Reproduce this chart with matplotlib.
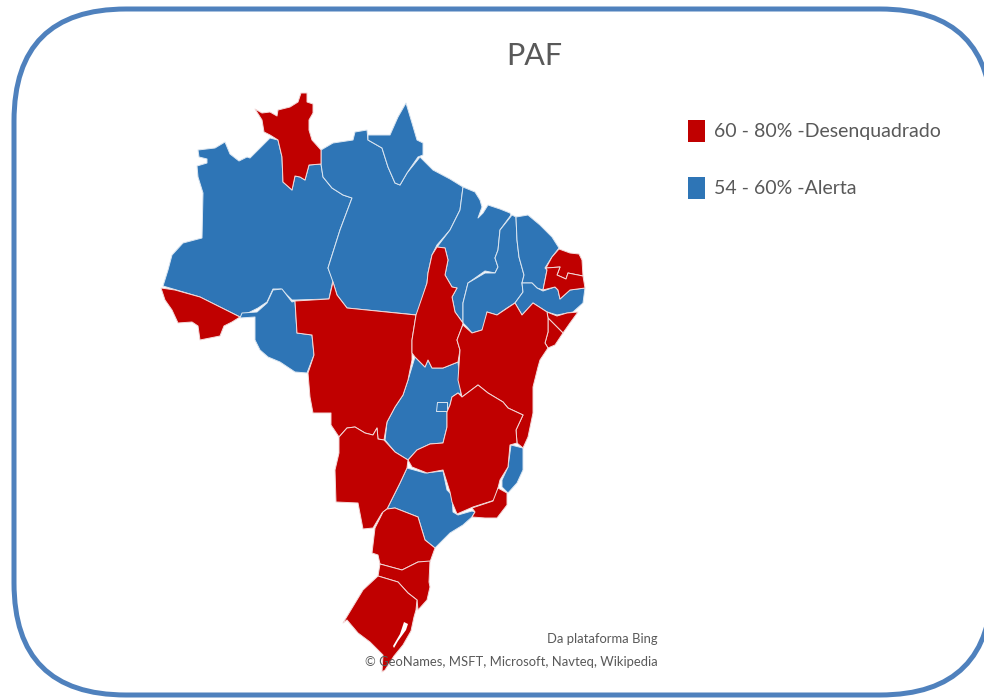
import matplotlib
matplotlib.use('Agg')
import matplotlib.pyplot as plt
from matplotlib.patches import FancyBboxPatch, Polygon, Rectangle

# State outlines (pixel coordinates)
RR = [(255,109),(262,113),(270,112),(277,116),(278,110),(290,107),(298,102),(301,93),(307,93),(307,102),(313,104),(313,113),(309,120),(309,130),(312,140),(321,150),(321,164),(309,165),(305,180),(300,177),(295,176),(292,190),(283,182),(282,157),(278,140),(270,135),(264,132),(262,120)]
AM = [(198,150),(215,148),(225,142),(230,154),(239,161),(247,157),(250,158),(258,150),(270,138),(278,140),(282,157),(283,182),(292,190),(295,176),(300,177),(305,180),(309,165),(321,164),(323,177),(332,188),(343,195),(352,198),(340,230),(328,268),(333,280),(329,299),(296,300),(292,300),(281,289),(273,289),(267,302),(258,308),(250,312),(240,317),(200,297),(163,286),(168,270),(172,255),(183,243),(202,238),(203,193),(198,177),(197,166),(207,163),(207,159),(199,157)]
AC = [(161,288),(175,290),(200,297),(240,317),(232,322),(224,326),(220,336),(200,340),(198,326),(192,322),(178,323),(172,310),(165,300)]
RO = [(240,318),(242,313),(257,312),(267,303),(273,290),(282,289),(292,302),(295,301),(297,333),(312,335),(314,355),(307,373),(295,372),(280,362),(268,357),(260,350),(255,340),(255,317)]
MT = [(295,301),(329,299),(333,282),(337,295),(347,308),(416,315),(412,340),(412,360),(408,380),(403,395),(395,407),(387,422),(384,440),(378,439),(377,428),(373,435),(365,433),(355,427),(347,428),(339,437),(331,425),(331,413),(313,413),(310,397),(308,373),(314,355),(312,335),(297,333)]
PA = [(321,150),(333,143),(353,140),(355,132),(367,130),(368,140),(382,148),(388,167),(395,183),(400,185),(407,173),(420,157),(433,170),(450,179),(463,187),(460,210),(450,230),(437,245),(432,255),(428,273),(427,283),(417,315),(347,308),(337,295),(333,282),(328,268),(340,230),(352,198),(343,195),(332,188),(323,177),(321,164)]
AP = [(368,135),(370,135),(390,135),(398,117),(406,103),(412,123),(417,140),(423,143),(423,155),(418,157),(407,173),(400,185),(395,183),(388,167),(382,148),(368,140)]
MA = [(463,187),(475,192),(480,200),(482,207),(478,218),(483,213),(488,205),(500,209),(510,213),(511,215),(500,230),(498,250),(495,258),(498,267),(495,273),(485,271),(468,283),(463,303),(463,323),(455,312),(452,297),(457,288),(452,287),(445,275),(448,260),(445,248),(437,247),(450,230),(460,210)]
PI = [(512,215),(516,217),(517,240),(519,257),(524,275),(522,283),(523,292),(515,303),(507,308),(497,315),(487,312),(486,322),(482,330),(472,333),(467,327),(463,323),(463,303),(468,283),(485,273),(495,273),(498,267),(495,258),(498,250),(500,230)]
CE = [(516,217),(528,215),(540,225),(552,237),(559,248),(552,257),(545,268),(547,270),(543,290),(537,288),(532,283),(522,283),(524,275),(519,257),(517,240)]
RN = [(559,249),(570,253),(579,254),(582,260),(583,276),(568,273),(566,279),(557,275),(560,267),(546,268),(552,257)]
PB = [(546,268),(560,267),(557,275),(566,279),(568,273),(583,276),(585,288),(570,290),(560,299),(558,290),(555,287),(543,290),(547,270)]
PE = [(522,283),(532,283),(537,288),(543,291),(555,287),(558,290),(560,299),(570,290),(585,288),(583,303),(573,312),(557,315),(547,312),(533,303),(522,315),(515,303),(523,292)]
AL = [(547,312),(557,316),(567,313),(578,312),(570,323),(563,333),(548,318)]
SE = [(548,318),(563,333),(555,345),(548,348),(545,343),(548,332)]
BA = [(463,325),(472,333),(482,330),(487,312),(497,315),(515,303),(522,315),(533,303),(547,312),(548,318),(548,332),(545,343),(548,348),(540,360),(538,367),(533,387),(533,413),(528,437),(523,448),(517,443),(516,430),(523,415),(508,408),(503,402),(488,393),(478,385),(462,397),(458,380),(460,350),(457,340),(462,327)]
TO = [(437,247),(445,248),(448,260),(445,275),(452,287),(457,288),(452,297),(455,312),(463,323),(462,327),(457,340),(460,350),(458,362),(443,368),(432,368),(428,360),(425,367),(415,357),(412,353),(412,340),(416,315),(427,283),(428,273),(432,255)]
GO = [(415,357),(425,367),(428,360),(432,368),(443,368),(458,362),(460,380),(461,395),(458,393),(452,397),(450,405),(447,412),(447,427),(443,443),(430,444),(417,450),(408,460),(395,452),(385,440),(387,422),(395,407),(403,395),(408,380)]
DF = [(437,402),(447,402),(447,411),(436,411)]
MG = [(462,397),(478,385),(488,393),(503,402),(508,408),(523,415),(516,430),(517,443),(510,445),(508,467),(500,480),(498,488),(495,500),(473,507),(457,514),(452,502),(450,492),(443,470),(427,473),(412,467),(408,460),(417,450),(430,444),(443,443),(447,427),(447,412),(450,405),(452,397),(458,393)]
ES = [(511,445),(523,448),(523,470),(517,483),(508,493),(502,487),(502,480),(508,467)]
RJ = [(498,488),(507,493),(507,505),(497,518),(485,518),(472,517),(475,512),(472,508),(493,501)]
SP = [(407,468),(425,473),(443,471),(447,490),(452,495),(453,512),(458,515),(472,511),(475,512),(472,517),(463,525),(450,533),(435,548),(425,540),(418,517),(395,508),(387,509),(400,483)]
MS = [(339,437),(347,428),(355,427),(365,433),(373,435),(377,428),(378,439),(384,440),(395,452),(408,460),(407,468),(400,483),(387,509),(382,513),(373,528),(363,529),(358,503),(336,502),(335,470),(339,453)]
PR = [(387,509),(395,508),(418,517),(425,540),(435,548),(430,562),(418,562),(402,570),(380,564),(378,555),(372,553),(375,528),(383,512)]
SC = [(380,564),(402,570),(418,562),(430,561),(429,582),(430,587),(427,600),(418,610),(417,600),(408,593),(398,582),(378,576)]
RS = [(378,576),(398,582),(408,593),(417,600),(416,610),(414,617),(411,631),(403,645),(394,656),(385,670),(382,672),(383,655),(370,642),(358,633),(347,620),(343,623),(363,590)]
LAGOA = [(404,622),(408,624),(406,630),(398,641),(394,648),(393,646),(400,634)]

red_states = [RR, AC, MT, TO, RN, PB, AL, SE, BA, MG, RJ, MS, PR, SC, RS]
blue_states = [AM, RO, PA, AP, MA, PI, CE, PE, GO, DF, ES, SP]

title = 'PAF'
legend_labels = ['60 - 80% -Desenquadrado', '54 - 60% -Alerta']
credits = ['Da plataforma Bing', '© GeoNames, MSFT, Microsoft, Navteq, Wikipedia']

RED = '#c00000'
BLUE = '#2e75b6'
GREY = '#595959'

plt.rcParams['font.family'] = ['Lato', 'DejaVu Sans']

fig = plt.figure(figsize=(9.84, 6.99), dpi=100)
ax = fig.add_axes([0, 0, 1, 1])
ax.set_xlim(0, 984)
ax.set_ylim(699, 0)
ax.axis('off')

# Rounded frame, runs off the right edge
frame = FancyBboxPatch((14 + 112, 9 + 112), 992 - 14 - 224, 695 - 9 - 224,
                       boxstyle='round,pad=112,rounding_size=112',
                       fc='white', ec='#4f81bd', lw=3.6, clip_on=True, zorder=1)
ax.add_patch(frame)

for state in blue_states:
    ax.add_patch(Polygon(state, closed=True, fc=BLUE, ec='#dbe6f1', lw=0.7, joinstyle='round', zorder=2))
for state in red_states:
    ax.add_patch(Polygon(state, closed=True, fc=RED, ec='#f3d9d9', lw=0.7, joinstyle='round', zorder=3))
ax.add_patch(Polygon(LAGOA, closed=True, fc='white', ec='none', zorder=4))

ax.text(534, 56, title, fontsize=22, color=GREY, ha='center', va='center', zorder=5)

# Legend drawn by hand to keep the spacing of the original
for y, color, label in zip([120, 177], [RED, BLUE], legend_labels):
    ax.add_patch(Rectangle((688, y), 17, 22, fc=color, ec='none', zorder=5))
    ax.text(714, y + 12, label, fontsize=14, color=GREY, ha='left', va='center', zorder=5)

ax.text(658, 639, credits[0], fontsize=9.4, color=GREY, ha='right', va='center', zorder=6)
ax.text(658, 662, credits[1], fontsize=9.4, color=GREY, ha='right', va='center', zorder=6)

fig.savefig('out.png', dpi=100)
